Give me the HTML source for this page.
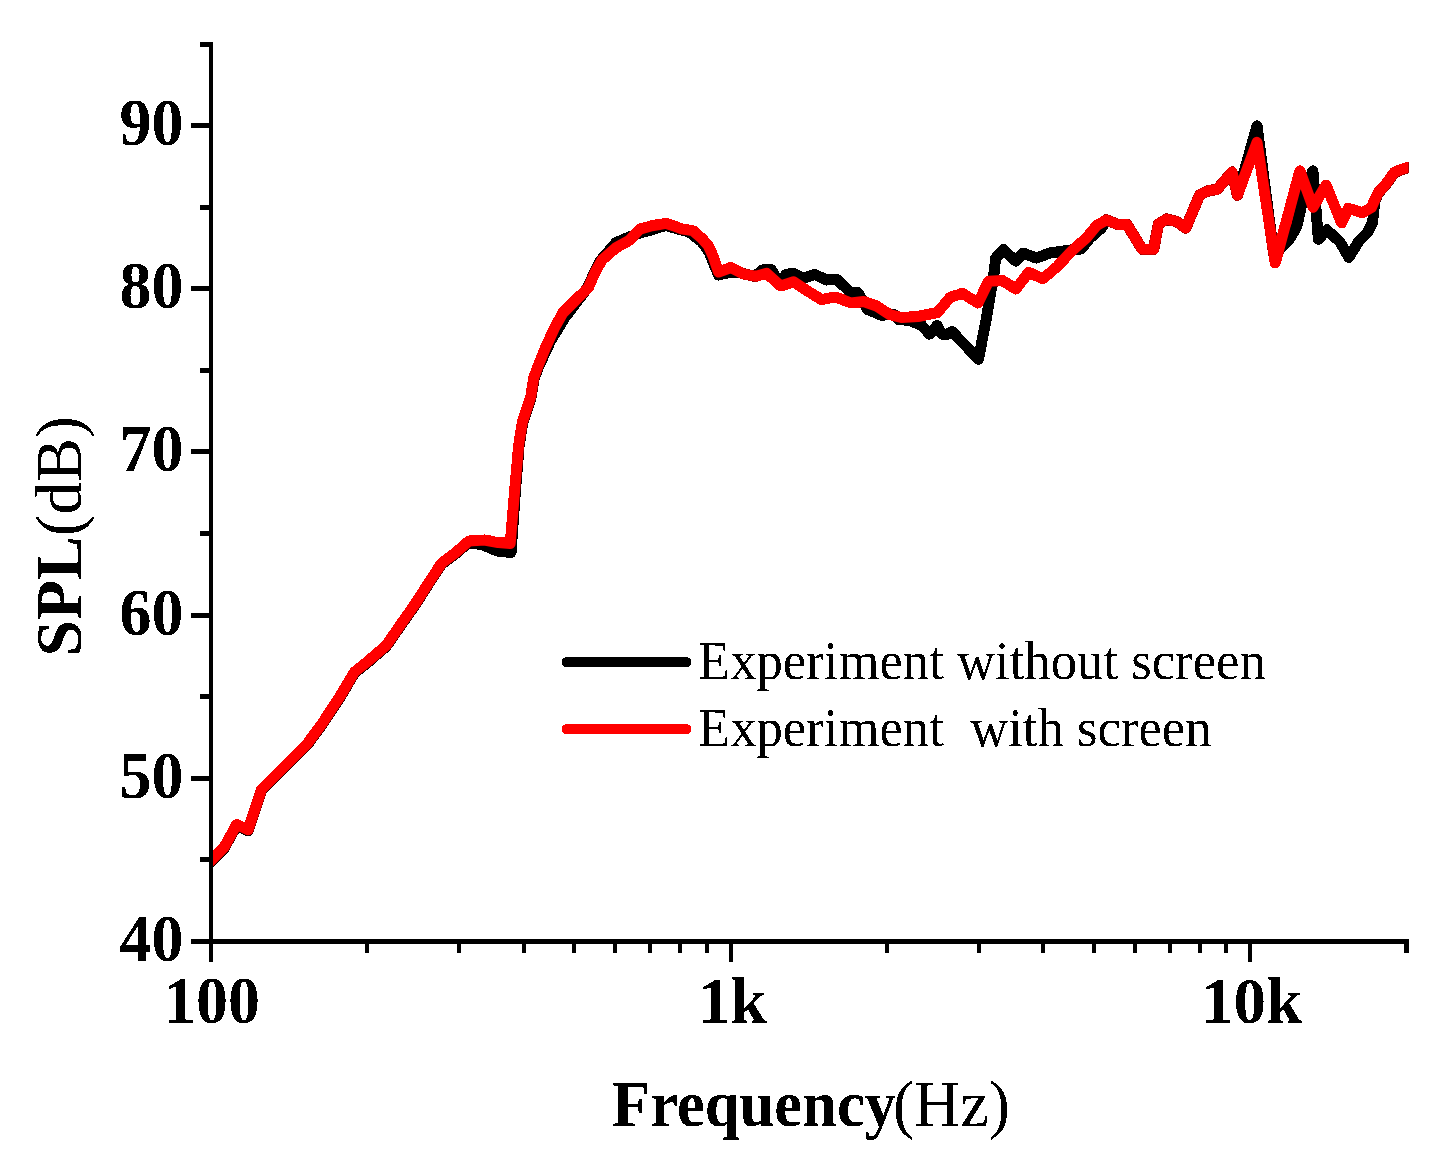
<!DOCTYPE html>
<html><head><meta charset="utf-8"><style>
html,body{margin:0;padding:0;background:#fff;}
svg{display:block;}
text{font-family:"Liberation Serif",serif;}
</style></head><body>
<svg width="1441" height="1169" viewBox="0 0 1441 1169">
<rect width="1441" height="1169" fill="#fff"/>
<filter id="al" filterUnits="userSpaceOnUse" x="0" y="0" width="1441" height="1169"><feComponentTransfer><feFuncA type="discrete" tableValues="0 1"/></feComponentTransfer></filter>
<g filter="url(#al)">
<defs><clipPath id="pc"><rect x="213" y="0" width="1195.5" height="941"/></clipPath></defs>
<g clip-path="url(#pc)">
<polyline points="203.0,869.5 211.0,861.5 224.2,848.2 236.7,825.4 248.1,830.8 261.7,790.2 284.2,767.6 306.9,745.2 322.7,723.7 331.3,710.4 341.1,695.6 354.4,673.0 369.8,660.7 386.3,646.3 400.6,625.7 415.0,605.2 429.4,582.6 441.7,564.1 455.4,553.9 469.1,542.0 483.0,545.0 497.0,551.0 511.0,552.5 515.5,490.0 519.0,447.0 522.5,424.0 531.0,398.0 534.0,379.0 538.5,367.0 550.0,342.0 564.5,318.0 576.0,303.0 586.7,289.0 599.6,261.6 615.8,242.8 629.5,236.8 639.8,233.0 650.0,230.2 665.5,225.4 688.9,232.0 702.0,242.0 709.0,252.0 718.5,275.0 730.6,272.3 738.0,272.0 745.0,274.0 755.0,276.5 762.0,270.0 771.0,269.5 779.5,283.0 786.0,274.5 793.6,273.3 803.3,278.2 815.0,274.3 826.6,280.1 836.3,279.1 850.9,292.7 857.7,292.2 867.4,309.3 882.0,315.3 893.5,314.0 898.5,319.5 910.0,320.6 918.0,324.0 921.0,324.5 929.5,334.2 937.0,325.5 942.0,334.2 947.5,334.2 952.0,331.5 978.5,359.3 987.2,313.7 994.5,270.0 995.5,258.3 1003.3,249.5 1015.9,261.2 1022.7,253.0 1036.3,258.0 1049.9,253.0 1067.4,250.5 1081.0,249.0 1090.0,238.0 1101.4,228.2 1106.3,219.9 1119.0,224.8 1126.7,224.2 1142.1,249.2 1153.6,249.2 1158.5,224.0 1166.5,219.1 1176.7,221.6 1185.7,228.1 1199.8,194.7 1209.0,190.5 1217.0,189.5 1232.0,172.0 1237.5,195.2 1257.0,125.7 1274.0,255.0 1288.9,240.1 1296.7,226.8 1301.2,206.7 1304.5,190.1 1312.9,170.8 1318.4,239.3 1326.8,229.8 1340.0,242.0 1348.9,257.4 1358.5,241.6 1367.5,232.7 1372.6,222.4 1373.5,213.0 1375.0,201.0 1378.0,193.5 1386.0,184.5 1394.4,172.8 1402.1,169.5 1407.9,168.0 1415.0,166.0" fill="none" stroke="#000" stroke-width="11" stroke-linejoin="round" stroke-linecap="butt"/>
<polyline points="203.0,868.5 211.0,860.5 224.2,847.2 236.7,824.4 248.1,829.8 261.7,789.2 284.2,766.6 306.9,744.2 322.7,722.7 331.3,709.4 341.1,694.6 354.4,672.0 369.8,659.7 386.3,645.3 400.6,624.7 415.0,604.2 429.4,581.6 441.7,563.1 455.4,552.9 469.1,540.9 484.5,540.0 498.2,542.6 510.2,543.5 515.3,482.7 518.7,445.0 522.2,422.8 530.7,397.1 533.7,378.0 538.0,366.0 545.7,347.2 554.2,328.4 562.8,313.0 574.8,301.0 588.5,287.3 595.3,271.9 602.1,259.9 615.8,247.9 629.5,240.2 639.8,229.1 651.8,225.7 657.8,224.8 665.5,223.3 673.3,225.7 681.1,228.7 692.7,230.6 701.5,237.9 708.3,245.7 713.1,256.3 718.5,272.0 731.0,267.5 743.3,273.8 755.9,276.3 766.6,273.3 780.7,286.0 793.6,281.7 807.2,290.8 821.8,299.7 835.4,296.9 850.9,303.0 863.6,301.5 877.2,306.3 889.8,314.6 901.4,317.5 918.0,316.5 937.5,312.5 950.0,297.5 962.5,293.3 978.0,303.0 988.7,281.2 1002.3,280.5 1015.9,289.0 1028.6,272.4 1043.1,278.7 1057.7,266.1 1072.3,250.5 1086.9,237.4 1096.6,225.5 1106.3,219.9 1119.0,224.8 1126.7,224.2 1142.1,249.2 1153.6,249.2 1158.5,224.0 1166.5,219.1 1176.7,221.6 1185.7,228.1 1199.8,194.7 1209.0,190.5 1217.0,189.5 1232.0,172.0 1237.5,195.2 1257.0,142.3 1275.2,262.7 1299.9,170.8 1313.0,207.2 1326.0,185.0 1341.6,223.0 1348.2,208.3 1362.3,212.8 1371.3,207.6 1378.0,193.0 1386.0,184.0 1394.4,172.3 1402.1,169.1 1407.9,167.5 1415.0,165.5" fill="none" stroke="#f00" stroke-width="11" stroke-linejoin="round" stroke-linecap="butt"/>
</g>
<g fill="#000">
<rect x="209" y="42" width="4" height="902"/>
<rect x="191" y="939" width="1218" height="5"/>
<rect x="209.00" y="941" width="4" height="21" />
<rect x="728.60" y="941" width="4" height="21" />
<rect x="1248.20" y="941" width="4" height="21" />
<rect x="365.42" y="941" width="4" height="12" />
<rect x="456.91" y="941" width="4" height="12" />
<rect x="521.83" y="941" width="4" height="12" />
<rect x="572.18" y="941" width="4" height="12" />
<rect x="613.33" y="941" width="4" height="12" />
<rect x="648.11" y="941" width="4" height="12" />
<rect x="678.25" y="941" width="4" height="12" />
<rect x="704.82" y="941" width="4" height="12" />
<rect x="885.02" y="941" width="4" height="12" />
<rect x="976.51" y="941" width="4" height="12" />
<rect x="1041.43" y="941" width="4" height="12" />
<rect x="1091.78" y="941" width="4" height="12" />
<rect x="1132.93" y="941" width="4" height="12" />
<rect x="1167.71" y="941" width="4" height="12" />
<rect x="1197.85" y="941" width="4" height="12" />
<rect x="1224.42" y="941" width="4" height="12" />
<rect x="1404.62" y="941" width="4" height="12" />
<rect x="1404.62" y="941" width="4" height="12" />
<rect x="191" y="939.00" width="20" height="5" />
<rect x="191" y="775.80" width="20" height="5" />
<rect x="191" y="612.60" width="20" height="5" />
<rect x="191" y="449.40" width="20" height="5" />
<rect x="191" y="286.20" width="20" height="5" />
<rect x="191" y="123.00" width="20" height="5" />
<rect x="200" y="857.40" width="11" height="5" />
<rect x="200" y="694.20" width="11" height="5" />
<rect x="200" y="531.00" width="11" height="5" />
<rect x="200" y="367.80" width="11" height="5" />
<rect x="200" y="204.60" width="11" height="5" />
<rect x="200" y="42.00" width="11" height="5" />
</g>
<g font-size="64" font-weight="bold" fill="#000">
<text x="183.5" y="961.0" text-anchor="end" transform="translate(0 961.0) scale(1 1.073) translate(0 -961.0)">40</text>
<text x="183.5" y="797.8" text-anchor="end" transform="translate(0 797.8) scale(1 1.073) translate(0 -797.8)">50</text>
<text x="183.5" y="634.6" text-anchor="end" transform="translate(0 634.6) scale(1 1.073) translate(0 -634.6)">60</text>
<text x="183.5" y="471.4" text-anchor="end" transform="translate(0 471.4) scale(1 1.073) translate(0 -471.4)">70</text>
<text x="183.5" y="308.2" text-anchor="end" transform="translate(0 308.2) scale(1 1.073) translate(0 -308.2)">80</text>
<text x="183.5" y="145.0" text-anchor="end" transform="translate(0 145.0) scale(1 1.073) translate(0 -145.0)">90</text>
<text x="164" y="1023" transform="translate(0 1023) scale(1 1.05) translate(0 -1023)">100</text>
<text x="698" y="1023" font-size="65">1k</text>
<text x="1201" y="1023" font-size="65">10k</text>
</g>
<text x="612" y="1126" font-size="65.5" font-weight="bold" textLength="284" lengthAdjust="spacingAndGlyphs">Frequency</text>
<text x="893" y="1126" font-size="65.5" textLength="117" lengthAdjust="spacingAndGlyphs">(Hz)</text>
<text transform="translate(81 656.5) rotate(-90)" x="0" y="0" font-size="65.5"><tspan font-weight="bold">SPL</tspan>(dB)</text>
<line x1="567" y1="662" x2="686" y2="662" stroke="#000" stroke-width="10.4" stroke-linecap="round"/>
<line x1="567" y1="729" x2="686" y2="729" stroke="#f00" stroke-width="10.4" stroke-linecap="round"/>
<text x="698" y="679" font-size="52.7" transform="translate(0 679) scale(1 1.025) translate(0 -679)">Experiment without screen</text>
<text x="698" y="746" font-size="52.7" xml:space="preserve" transform="translate(0 746) scale(1 1.025) translate(0 -746)">Experiment  with screen</text>
</g>
</svg>
</body></html>
